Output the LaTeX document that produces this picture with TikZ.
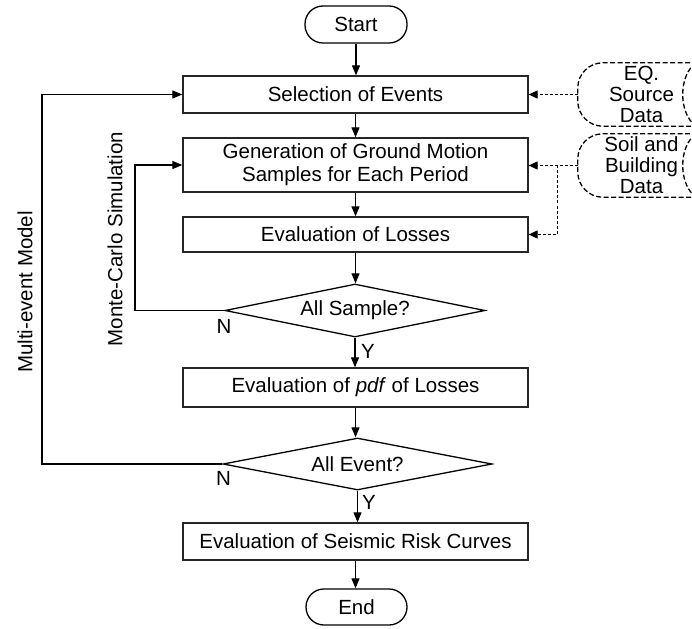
\documentclass[tikz,border=0pt]{standalone}
\usepackage{fontspec}
\setmainfont{Liberation Sans}
\usetikzlibrary{shapes.geometric,arrows.meta,calc}
\begin{document}
\begin{tikzpicture}[x=1pt,y=-1pt,
  font=\fontsize{20.5}{21}\selectfont,
  box/.style={draw=black!85, line width=1.3pt, minimum width=345pt, inner sep=0pt, align=center},
  term/.style={draw, line width=1.3pt, rounded corners=18pt, minimum width=102pt, minimum height=37pt, inner sep=0pt},
  dec/.style={diamond, draw, line width=1.3pt, inner sep=0pt},
  arr/.style={-{Triangle[length=10pt,width=8pt]}, line width=1.1pt},
  darr/.style={-{Triangle[length=9pt,width=8pt]}, line width=1pt, dash pattern=on 3pt off 2pt},
  store/.style={line width=1.3pt, dash pattern=on 5pt off 2.5pt},
  storetext/.style={minimum width=127pt, minimum height=63pt, inner sep=0pt, align=center},
  lbl/.style={inner sep=0pt}]
\useasboundingbox (0,0) rectangle (692,628);
\clip (0,0) rectangle (692,628);

% main flow
\node[term] (start) at (356,24.5) {Start};
\node[box, minimum height=37pt] (sel) at (355.5,94.5) {Selection of Events};
\node[box, minimum height=54pt] (gen) at (355.5,165) {Generation of Ground Motion\\[2pt]Samples for Each Period};
\node[box, minimum height=35pt] (loss) at (355.5,234.5) {Evaluation of Losses};
\node[dec, minimum width=260pt, minimum height=53pt, aspect=4.9] (d1) at (355,310.5) {All Sample?};
\node[box, minimum height=39pt] (pdf) at (355.5,387.5) {Evaluation of \textit{pdf} of Losses};
\node[dec, minimum width=269pt, minimum height=52pt, aspect=5.2] (d2) at (357.5,464) {All Event?};
\node[box, minimum height=37pt] (risk) at (355.5,541.5) {Evaluation of Seismic Risk Curves};
\node[term, minimum height=36pt, minimum width=101pt] (end) at (356.5,607) {End};

% data stores
\node[storetext] (eq) at (641.5,94.5) {EQ.\\Source\\Data};
\node[storetext] (soil) at (641.5,165.5) {Soil and\\Building\\Data};
\foreach \s in {eq,soil}{
  \draw[store, rounded corners=25pt] ([xshift=30pt]\s.north east) -- (\s.north west) -- (\s.south west) -- ([xshift=30pt]\s.south east);
  \draw[store] ([xshift=-9pt]\s.north east) .. controls ([xshift=-27pt,yshift=-12pt]\s.north east) and ([xshift=-27pt,yshift=12pt]\s.south east) .. ([xshift=-9pt]\s.south east);
}

% vertical connectors
\draw[arr] (start.south) -- (start.south |- sel.north);
\draw[arr] (sel.south) -- (sel.south |- gen.north);
\draw[arr] (gen.south) -- (gen.south |- loss.north);
\draw[arr] (loss.south) -- (loss.south |- d1.north);
\draw[arr] (d1.south) -- (d1.south |- pdf.north);
\draw[arr] (pdf.south) -- (pdf.south |- d2.north);
\draw[arr] (d2.south) -- (d2.south |- risk.north);
\draw[arr] (risk.south) -- (risk.south |- end.north);

% loops
\coordinate (mc) at (135,0);
\coordinate (me) at (42,0);
\draw[arr] (d1.west) -- (d1.west -| mc) |- (gen.west);
\draw[arr] (d2.west) -- (d2.west -| me) |- (sel.west);

% data connectors
\draw[darr] (eq.west) -- (eq.west -| sel.east);
\draw[darr] (soil.west) -- (soil.west -| gen.east);
\coordinate (br) at (557,165.5);
\draw[darr] (br) |- (loss.east);

% labels
\node[lbl] (n1) at (224,326) {N};
\node[lbl] (y1) at (368,351) {Y};
\node[lbl] (n2) at (223.5,478) {N};
\node[lbl] (y2) at (369,502.5) {Y};
\node[rotate=90] (mctext) at (115,239) {Monte-Carlo Simulation};
\node[rotate=90] (metext) at (25,292) {Multi-event Model};
\end{tikzpicture}
\end{document}
